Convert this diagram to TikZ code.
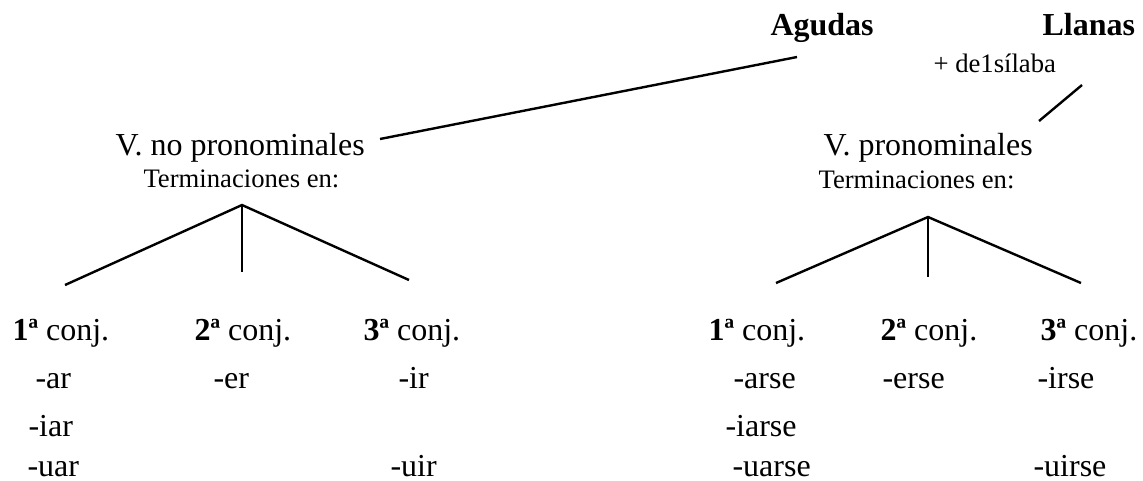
\documentclass[tikz,border=0pt]{standalone}
\usepackage{fontspec}
\setmainfont{Liberation Serif}
\usetikzlibrary{positioning}
\tikzset{g/.style={font=\fontsize{12}{12}\selectfont, inner sep=0pt, anchor=base west}}
\tikzset{p/.style={font=\fontsize{10}{10}\selectfont, inner sep=0pt, anchor=base west}}
\tikzset{rama/.style={line width=0.9pt}}

\begin{document}
\begin{tikzpicture}[x=0.375pt, y=-0.375pt]
        \useasboundingbox (0,0) rectangle (1143,480);
        % cabecera
        \node[g] (agudas) at (770,35) {\textbf{Agudas}};
        \node[g] (llanas) at (1042,35) {\textbf{Llanas}};
        \node[p] (sil) at (933,72) {+ de1sílaba};
        % verbos
        \node[g] (vnp) at (115,155) {V. no pronominales};
        \node[p] (tnp) at (143,187) {Terminaciones en:};
        \node[g] (vp) at (823,155) {V. pronominales};
        \node[p] (tp) at (818,188) {Terminaciones en:};
        % conjugaciones
        \node[g] (c1) at (12,340) {\textbf{1ª} conj.};
        \node[g] (c2) at (194,340) {\textbf{2ª} conj.};
        \node[g] (c3) at (363,340) {\textbf{3ª} conj.};
        \node[g] (d1) at (708,340) {\textbf{1ª} conj.};
        \node[g] (d2) at (880,340) {\textbf{2ª} conj.};
        \node[g] (d3) at (1040,340) {\textbf{3ª} conj.};
        % terminaciones
        \node[g] (ar) at (35,388) {-ar};
        \node[g] (iar) at (28,436) {-iar};
        \node[g] (uar) at (27,476) {-uar};
        \node[g] (er) at (213,388) {-er};
        \node[g] (ir) at (398,388) {-ir};
        \node[g] (uir) at (390,476) {-uir};
        \node[g] (arse) at (733,388) {-arse};
        \node[g] (iarse) at (725,436) {-iarse};
        \node[g] (uarse) at (732,476) {-uarse};
        \node[g] (erse) at (882,388) {-erse};
        \node[g] (irse) at (1037,388) {-irse};
        \node[g] (uirse) at (1033,476) {-uirse};
        % ramas
        \coordinate (ag) at (797,57);
        \coordinate (vnpR) at (380,139);
        \coordinate (ll) at (1082,85);
        \coordinate (vpR) at (1039,121);
        \coordinate (t1) at (242,205);
        \coordinate (l1) at (65,285);
        \coordinate (l2) at (242,272);
        \coordinate (l3) at (409,280);
        \coordinate (t2) at (928,217);
        \coordinate (r1) at (776,283);
        \coordinate (r2) at (928,277);
        \coordinate (r3) at (1081,283);
        \draw[rama] (ag) -- (vnpR);
        \draw[rama] (ll) -- (vpR);
        \draw[rama] (l1) -- (t1) -- (l3);
        \draw[rama] (t1) -- (l2);
        \draw[rama] (r1) -- (t2) -- (r3);
        \draw[rama] (t2) -- (r2);
      \end{tikzpicture}
\end{document}
